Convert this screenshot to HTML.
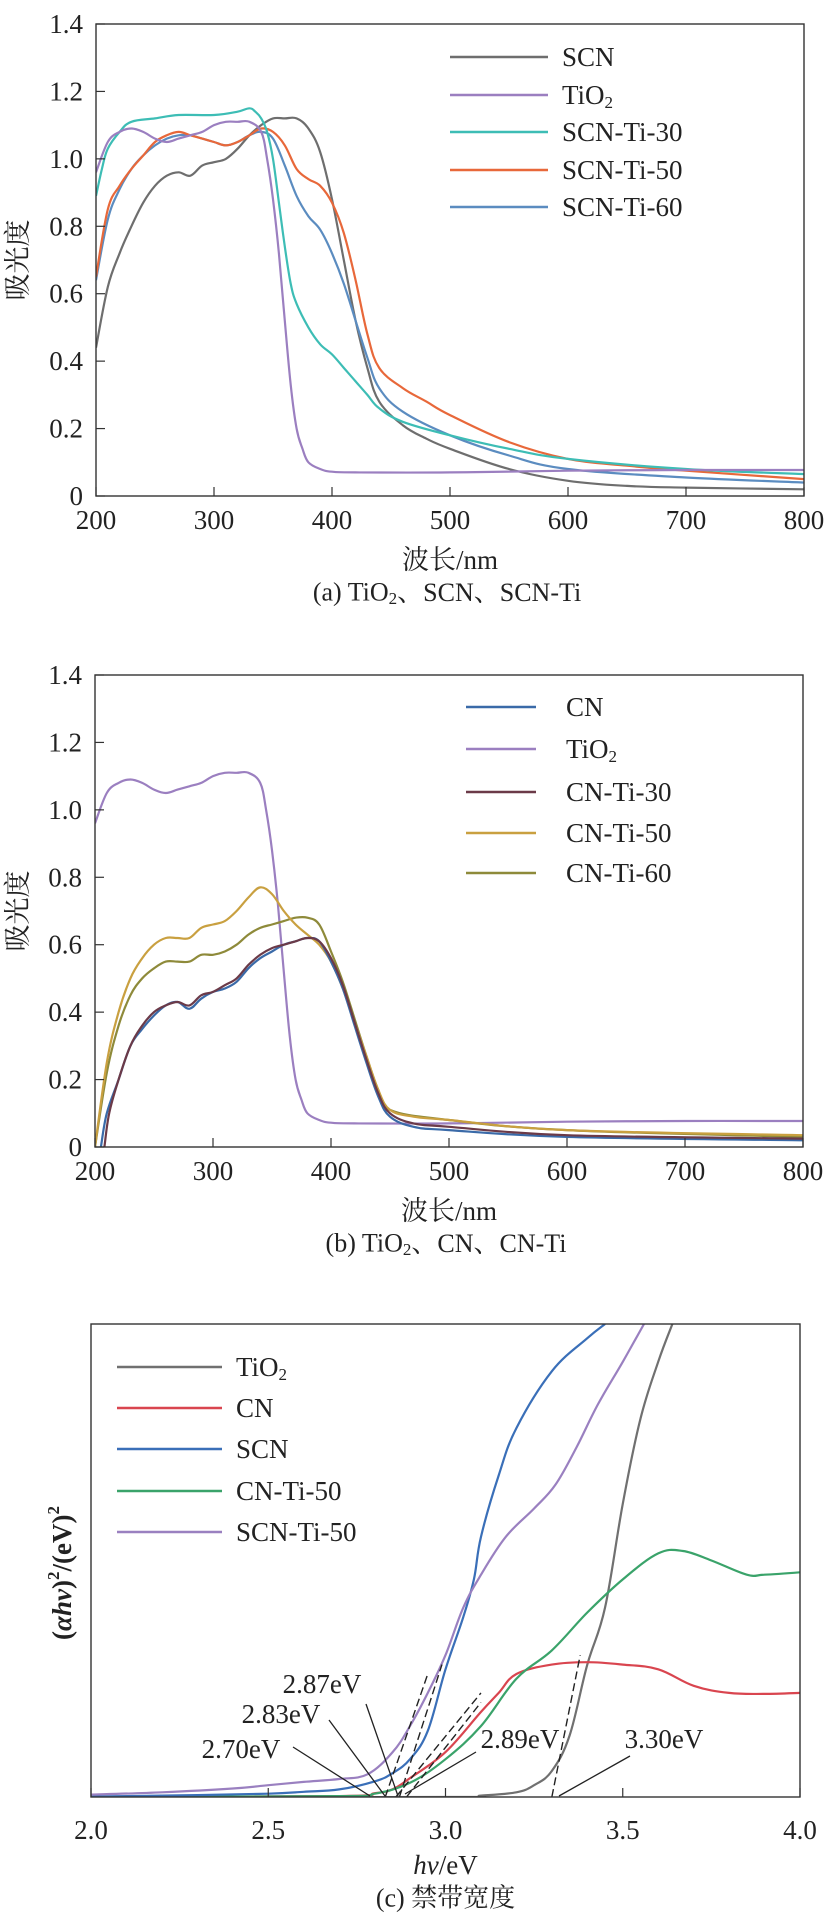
<!DOCTYPE html>
<html><head><meta charset="utf-8">
<style>
body{margin:0;background:#fff;}
svg{display:block;}
text{font-family:"Liberation Serif","Noto Serif CJK SC",serif;fill:#222;}
</style></head>
<body>
<svg id="fig" width="828" height="1922" viewBox="0 0 828 1922" xmlns="http://www.w3.org/2000/svg"></svg>
<script>
// ---------- Chart (a) data ----------
const aSCN_x=[200,210,220,230,240,250,260,270,280,290,300,310,320,330,340,350,360,370,380,390,400,410,420,430,440,460,480,500,550,600,650,700,800];
const aSCN_y=[0.44,0.62,0.72,0.80,0.87,0.92,0.95,0.96,0.95,0.98,0.99,1.00,1.03,1.07,1.10,1.12,1.12,1.12,1.09,1.02,0.88,0.70,0.52,0.38,0.28,0.21,0.17,0.14,0.08,0.045,0.03,0.025,0.02];
const TiO2_x=[200,210,220,230,240,250,260,270,280,290,300,310,320,330,340,345,350,355,360,365,370,375,380,390,400,420,500,600,700,800];
const TiO2_y=[0.96,1.05,1.08,1.09,1.08,1.06,1.05,1.06,1.07,1.08,1.10,1.11,1.11,1.11,1.08,1.00,0.88,0.72,0.52,0.33,0.20,0.14,0.10,0.08,0.072,0.07,0.07,0.075,0.077,0.077];
const aT30_x=[200,205,210,220,230,250,270,300,320,330,335,340,345,350,355,360,365,370,380,390,400,410,420,430,440,460,500,550,600,700,800];
const aT30_y=[0.89,0.97,1.03,1.08,1.11,1.12,1.13,1.13,1.14,1.15,1.14,1.12,1.08,1.00,0.87,0.74,0.63,0.57,0.50,0.45,0.42,0.38,0.34,0.30,0.26,0.22,0.18,0.14,0.11,0.08,0.065];
const aT50_x=[200,210,220,230,240,250,260,270,280,290,300,310,320,330,340,350,360,370,380,390,400,410,420,430,440,460,480,500,550,600,650,700,800];
const aT50_y=[0.65,0.85,0.92,0.97,1.01,1.05,1.07,1.08,1.07,1.06,1.05,1.04,1.05,1.07,1.09,1.08,1.04,0.97,0.94,0.92,0.87,0.78,0.64,0.48,0.38,0.32,0.28,0.24,0.16,0.11,0.09,0.075,0.05];
const aT60_x=[200,210,220,230,240,250,260,270,280,290,300,310,320,330,340,350,360,370,380,390,400,410,420,430,440,460,500,550,600,700,800];
const aT60_y=[0.64,0.82,0.91,0.97,1.01,1.04,1.06,1.07,1.07,1.06,1.05,1.04,1.05,1.07,1.08,1.06,0.98,0.89,0.83,0.79,0.72,0.63,0.52,0.41,0.32,0.25,0.18,0.12,0.08,0.055,0.04];
// ---------- Chart (b) data ----------
const bCN_x=[205,210,220,230,240,250,260,270,280,290,300,310,320,330,340,350,360,370,380,390,400,410,420,430,440,450,470,500,600,800];
const bCN_y=[0,0.1,0.2,0.3,0.35,0.39,0.42,0.43,0.41,0.44,0.46,0.47,0.49,0.53,0.56,0.58,0.60,0.61,0.62,0.61,0.55,0.47,0.36,0.25,0.15,0.09,0.06,0.05,0.03,0.02];
const bT30_x=[208,212,220,230,240,250,260,270,280,290,300,310,320,330,340,350,360,370,380,390,400,410,420,430,440,450,470,500,600,800];
const bT30_y=[0,0.1,0.2,0.3,0.36,0.40,0.42,0.43,0.42,0.45,0.46,0.48,0.50,0.54,0.57,0.59,0.60,0.61,0.62,0.61,0.56,0.48,0.37,0.26,0.16,0.10,0.07,0.06,0.035,0.025];
const bT50_x=[200,210,220,230,240,250,260,270,280,290,300,310,320,330,340,350,360,370,380,390,400,410,420,430,440,450,470,500,600,800];
const bT50_y=[0,0.25,0.40,0.50,0.56,0.60,0.62,0.62,0.62,0.65,0.66,0.67,0.70,0.74,0.77,0.75,0.70,0.66,0.63,0.60,0.55,0.47,0.37,0.27,0.17,0.11,0.09,0.08,0.05,0.035];
const bT60_x=[200,210,220,230,240,250,260,270,280,290,300,310,320,330,340,350,360,370,380,390,400,410,420,430,440,450,500,600,800];
const bT60_y=[0,0.22,0.36,0.45,0.50,0.53,0.55,0.55,0.55,0.57,0.57,0.58,0.60,0.63,0.65,0.66,0.67,0.68,0.68,0.66,0.58,0.49,0.38,0.27,0.17,0.11,0.08,0.05,0.03];
// ---------- Chart (c) data ----------
const cTi_x=[2.0,3.0,3.1,3.2,3.25,3.3,3.35,3.4,3.45,3.5,3.55,3.6,3.64];
const cTi_y=[0,0,0.3,1.0,2.5,5.5,13,28,40,62,80,92,100];
const cCN_x=[2.0,2.7,2.8,2.85,2.9,3.0,3.1,3.15,3.2,3.3,3.4,3.5,3.6,3.7,3.8,3.9,4.0];
const cCN_y=[0,0.2,0.8,1.6,4,9.5,18,22,26,28,28.5,28,27,23.5,22,21.8,22];
const cSCN_x=[2.0,2.3,2.5,2.6,2.7,2.8,2.85,2.9,2.95,3.0,3.05,3.08,3.1,3.15,3.2,3.3,3.4,3.45];
const cSCN_y=[0.1,0.4,0.7,1.1,1.6,3.3,5,8,14,27,38,46,55,68,78,90,97,100];
const cT50_x=[2.0,2.7,2.8,2.9,3.0,3.1,3.2,3.3,3.4,3.5,3.6,3.67,3.75,3.85,3.9,4.0];
const cT50_y=[0,0.2,0.7,3,8,15,25,31,39,46,51.5,52,50,47,47,47.5];
const cST50_x=[2.0,2.2,2.4,2.5,2.6,2.7,2.78,2.85,2.9,2.95,3.0,3.05,3.1,3.17,3.25,3.31,3.37,3.43,3.5,3.56];
const cST50_y=[0.5,1,1.8,2.5,3.2,3.8,4.8,9.4,15,22,30,40,47,55,61,66,74,83,92,100];
const cDash_x0=[2.83,2.87,2.86,2.89,3.30];
const cDash_x1=[2.95,2.99,3.1,3.1,3.38];
const cDash_y1=[26,28,22,20,30];
const cLabels=["2.87eV","2.83eV","2.70eV","2.89eV","3.30eV"];

const NS="http://www.w3.org/2000/svg";
const svg=document.getElementById('fig');
const FS=27;
function mk(tag,attrs,parent){const e=document.createElementNS(NS,tag);for(const k in attrs)e.setAttribute(k,attrs[k]);(parent||svg).appendChild(e);return e;}
function txt(s,x,y,size,anchor,parent){const t=mk('text',{x:x,y:y,'font-size':size,'text-anchor':anchor||'middle','dominant-baseline':'central'},parent);t.textContent=s;return t;}
function axis(x0,x1,y0,y1,d0,d1,r0,r1){return {sx:v=>x0+(v-d0)/(d1-d0)*(x1-x0),sy:v=>y1-(v-r0)/(r1-r0)*(y1-y0)};}
function line(xs,ys,A,color,name,parent){
  const P=xs.map((x,i)=>[A.sx(x),A.sy(ys[i])]);
  let d='M'+P[0][0].toFixed(1)+','+P[0][1].toFixed(1);
  for(let i=0;i<P.length-1;i++){
    const p0=P[Math.max(0,i-1)],p1=P[i],p2=P[i+1],p3=P[Math.min(P.length-1,i+2)];
    const t=0.18;
    const c1=[p1[0]+(p2[0]-p0[0])*t,p1[1]+(p2[1]-p0[1])*t];
    const c2=[p2[0]-(p3[0]-p1[0])*t,p2[1]-(p3[1]-p1[1])*t];
    d+='C'+c1[0].toFixed(1)+','+c1[1].toFixed(1)+' '+c2[0].toFixed(1)+','+c2[1].toFixed(1)+' '+p2[0].toFixed(1)+','+p2[1].toFixed(1);
  }
  const p=mk('path',{d:d,fill:'none',stroke:color,'stroke-width':2.2,'stroke-linejoin':'round'},parent);
  
  
  return p;
}
function frame(x0,x1,y0,y1,g){
  const r=mk('rect',{x:x0,y:y0,width:x1-x0,height:y1-y0,fill:'none',stroke:'#333','stroke-width':1.4},g);
  
  
}
function legend(items,lx0,lx1,tx,ys,g){
  items.forEach((it,i)=>{
    const lg=mk('g',{},g);
    
    
    mk('line',{x1:lx0,x2:lx1,y1:ys[i],y2:ys[i],stroke:it[1],'stroke-width':2.4},lg);
    const t=mk('text',{x:tx,y:ys[i],'font-size':FS,'dominant-baseline':'central'},lg);
    if(it[0]==='TiO2'){t.textContent='TiO';const s=mk('tspan',{'font-size':17,dy:7},t);s.textContent='2';}
    else t.textContent=it[0];
  });
}
function absChart(X0,X1,Y0,Y1,series,leg,legY,lx0,lx1,ltx,caption,capName){
  const g=mk('g',{});
  
  
  const A=axis(X0,X1,Y0,Y1,200,800,0,1.4);
  const xt=[200,300,400,500,600,700,800], yt=[0,0.2,0.4,0.6,0.8,1.0,1.2,1.4];
  const clip=mk('clipPath',{id:'c'+capName},g);mk('rect',{x:X0,y:Y0,width:X1-X0,height:Y1-Y0},clip);
  const sg=mk('g',{'clip-path':'url(#c'+capName+')'},g);
  series.forEach(s=>line(s[0],s[1],A,s[2],s[3],sg));
  frame(X0,X1,Y0,Y1,g);
  xt.forEach(v=>{const x=A.sx(v);mk('line',{x1:x,x2:x,y1:Y1,y2:Y1-9,stroke:'#333','stroke-width':1.2},g);
    const t=txt(String(v),x,Y1+24,FS,'middle',g);});
  yt.forEach(v=>{const y=A.sy(v);mk('line',{x1:X0,x2:X0+9,y1:y,y2:y,stroke:'#333','stroke-width':1.2},g);
    const t=txt(v===0?'0':v.toFixed(1),X0-13,y,FS,'end',g);});
  const yl=mk('text',{x:0,y:0,'font-size':FS,'text-anchor':'middle','dominant-baseline':'central',transform:'translate(18,'+((Y0+Y1)/2)+') rotate(-90)'},g);
  yl.textContent='吸光度';
  const xl=txt('波长/nm',(X0+X1)/2,Y1+64,FS,'middle',g);
  const cp=mk('text',{x:(X0+X1)/2-3,y:Y1+96,'font-size':26,'text-anchor':'middle','dominant-baseline':'central'},g);
  
  cp.appendChild(document.createTextNode(caption[0]));const sb=mk('tspan',{'font-size':17,dy:6},cp);sb.textContent='2';
  const rest=mk('tspan',{dy:-6},cp);rest.textContent=caption[1];
  legend(leg,lx0,lx1,ltx,legY,g);
}
absChart(96,804,24,496,[
  [aSCN_x,aSCN_y,'#6e6e6e','line-scn'],
  [aT60_x,aT60_y,'#5b8cc0','line-scn-ti-60'],
  [aT50_x,aT50_y,'#e8683a','line-scn-ti-50'],
  [aT30_x,aT30_y,'#3dbdb5','line-scn-ti-30'],
  [TiO2_x,TiO2_y,'#9b7fc0','line-tio2']],
  [['SCN','#6e6e6e','scn'],['TiO2','#9b7fc0','tio2'],['SCN-Ti-30','#3dbdb5','scn-ti-30'],['SCN-Ti-50','#e8683a','scn-ti-50'],['SCN-Ti-60','#5b8cc0','scn-ti-60']],
  [57,95,132,170,207],450,548,562,['(a) TiO','、SCN、SCN-Ti'],'chart-a');
absChart(95,803,675,1147,[
  [TiO2_x,TiO2_y,'#9b7fc0','line-tio2'],
  [bT60_x,bT60_y,'#8e8a3a','line-cn-ti-60'],
  [bT50_x,bT50_y,'#c9a040','line-cn-ti-50'],
  [bCN_x,bCN_y,'#3a6aa8','line-cn'],
  [bT30_x,bT30_y,'#6b3a48','line-cn-ti-30']],
  [['CN','#3a6aa8','cn'],['TiO2','#9b7fc0','tio2'],['CN-Ti-30','#6b3a48','cn-ti-30'],['CN-Ti-50','#c9a040','cn-ti-50'],['CN-Ti-60','#8e8a3a','cn-ti-60']],
  [707,749,792,833,873],466,536,566,['(b) TiO','、CN、CN-Ti'],'chart-b');

// ---------- Chart (c) ----------
(function(){
  const X0=91,X1=800,Y0=1324,Y1=1797;
  const g=mk('g',{});
  
  
  const A=axis(X0,X1,Y0,Y1,2.0,4.0,0,100);
  const clip=mk('clipPath',{id:'cc'},g);mk('rect',{x:X0,y:Y0,width:X1-X0,height:Y1-Y0},clip);
  const sg=mk('g',{'clip-path':'url(#cc)'},g);
  line(cTi_x,cTi_y,A,'#707070','line-tio2',sg);
  line(cCN_x,cCN_y,A,'#d9454f','line-cn',sg);
  line(cT50_x,cT50_y,A,'#3aa36a','line-cn-ti-50',sg);
  line(cSCN_x,cSCN_y,A,'#3a6fb8','line-scn',sg);
  line(cST50_x,cST50_y,A,'#9a80c0','line-scn-ti-50',sg);
  for(let i=0;i<cDash_x0.length;i++){
    const l=mk('line',{x1:A.sx(cDash_x0[i]),y1:A.sy(0),x2:A.sx(cDash_x1[i]),y2:A.sy(cDash_y1[i]),stroke:'#222','stroke-width':1.4,'stroke-dasharray':'8,4'},sg);
    
    
  }
  frame(X0,X1,Y0,Y1,g);
  [2.0,2.5,3.0,3.5,4.0].forEach(v=>{const x=A.sx(v);mk('line',{x1:x,x2:x,y1:Y1,y2:Y1-9,stroke:'#333','stroke-width':1.2},g);
    const t=txt(v.toFixed(1),x,Y1+33,FS,'middle',g);});
  const lab=[[cLabels[0],322,1684,366,1704,398,1796],[cLabels[1],281,1714,329,1720,385,1796],[cLabels[2],241,1749,293,1747,370,1796],[cLabels[3],520,1739,476,1752,405,1794],[cLabels[4],664,1739,630,1756,559,1796]];
  lab.forEach(a=>{
    const t=txt(a[0],a[1],a[2],FS,'middle',g);
    const l=mk('line',{x1:a[3],y1:a[4],x2:a[5],y2:a[6],stroke:'#222','stroke-width':1.3},g);
    
  });
  const yl=mk('text',{x:0,y:0,'font-size':FS,'font-weight':'bold','text-anchor':'middle','dominant-baseline':'central',transform:'translate(62,1573) rotate(-90)'},g);
  
  yl.appendChild(document.createTextNode('('));
  let s=mk('tspan',{'font-style':'italic'},yl);s.textContent='αhv';
  yl.appendChild(document.createTextNode(')'));
  s=mk('tspan',{'font-size':17,dy:-9},yl);s.textContent='2';
  s=mk('tspan',{dy:9},yl);s.textContent='/(eV)';
  s=mk('tspan',{'font-size':17,dy:-9},yl);s.textContent='2';
  const xl=mk('text',{x:(X0+X1)/2,y:1865,'font-size':FS,'text-anchor':'middle','dominant-baseline':'central'},g);
  
  s=mk('tspan',{'font-style':'italic'},xl);s.textContent='hv';
  xl.appendChild(document.createTextNode('/eV'));
  const cp=txt('(c) 禁带宽度',(X0+X1)/2,1898,26,'middle',g);
  legend([['TiO2','#707070','tio2'],['CN','#d9454f','cn'],['SCN','#3a6fb8','scn'],['CN-Ti-50','#3aa36a','cn-ti-50'],['SCN-Ti-50','#9a80c0','scn-ti-50']],117,222,236,[1367,1408,1449,1491,1532],g);
})();
</script>
</body></html>
